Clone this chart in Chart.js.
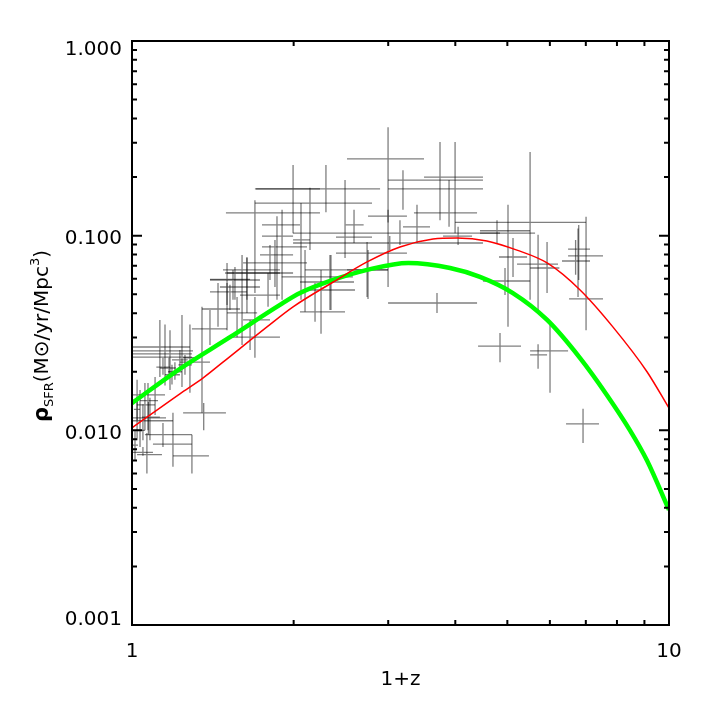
<!DOCTYPE html>
<html>
<head>
<meta charset="utf-8">
<script src="https://cdn.jsdelivr.net/npm/chart.js@4.4.1/dist/chart.umd.min.js"></script>
<style>
  body { margin: 0; background: #fff; }
  #wrap { width: 709px; height: 709px; }
</style>
</head>
<body>
<div id="wrap"><canvas id="sfrChart" width="709" height="709"></canvas></div>
<script>
// ==================== Data ====================
// red model curve (1+z, rho)
const redX = [1.0, 1.228, 1.357, 1.477, 1.784, 1.995, 2.37, 2.74, 3.155, 3.636, 4.03, 4.58, 5.21, 5.93, 6.83, 7.86, 9.10, 10.0];
const redY = [0.0103, 0.0154, 0.0186, 0.0224, 0.0340, 0.0431, 0.0578, 0.0733, 0.0875, 0.0961, 0.0973, 0.0940, 0.0843, 0.0724, 0.0526, 0.0340, 0.0200, 0.0130];

// green model curve
const greenX = [1.0, 1.228, 1.522, 1.886, 2.055, 2.368, 2.74, 3.27, 3.911, 4.446, 5.12, 5.93, 6.83, 7.66, 8.46, 9.10, 10.0];
const greenY = [0.0138, 0.0207, 0.0301, 0.0441, 0.0507, 0.0592, 0.0667, 0.0724, 0.0682, 0.0614, 0.0507, 0.0369, 0.0235, 0.0152, 0.0100, 0.0070, 0.0039];

// measurements with error bars
const crossX   = [1.36, 1.293, 1.192, 1.142, 1.066, 1.048, 1.073, 1.048, 1.022, 1.013, 1.035, 1.080,
                  1.127, 1.152, 1.177, 1.239, 1.228, 1.255, 1.202, 1.172, 1.282, 1.350, 1.397, 1.446,
                  1.503, 1.637, 1.694, 1.603, 1.569, 1.659, 1.792, 1.995, 1.694, 1.862, 1.903, 1.846,
                  1.807, 2.064, 1.637, 1.555, 1.542, 1.503, 1.522, 2.998, 3.196, 3.746, 3.996, 3.894,
                  3.394, 2.998, 2.493, 2.591, 2.297, 2.145, 2.740, 2.751, 2.347, 2.192, 2.249, 3.698,
                  2.337, 2.100, 3.155, 3.02, 4.048, 5.512, 7.007, 4.783, 5.014, 5.123, 4.95, 5.704,
                  5.928, 6.77, 6.79, 6.70, 4.845, 5.704, 6.004, 6.917, 1.022, 1.057, 1.104, 1.071,
                  1.142, 1.187];
const crossXLo = [1.245, 1.192, 1.094, 1.057, 1.022, 1.004, 1.004, 0.98, 1.008, 1.004, 1.017, 1.044,
                  0.95, 0.95, 0.95, 0.95, 1.187, 1.220, 1.167, 1.127, 1.245, 1.228, 1.293, 1.350,
                  1.397, 1.490, 1.610, 1.477, 1.503, 1.503, 1.589, 1.702, 1.496, 1.746, 1.746, 1.746,
                  1.731, 1.995, 1.610, 1.503, 1.397, 1.458, 1.397, 2.514, 2.998, 3.498, 2.998, 3.35,
                  3.196, 2.751, 2.398, 2.50, 1.694, 1.694, 2.398, 2.514, 2.055, 2.055, 2.100, 2.998,
                  2.100, 1.90, 1.995, 1.995, 3.795, 3.996, 6.515, 4.446, 4.446, 4.824, 4.504, 5.212,
                  5.512, 6.487, 6.487, 6.32, 4.41, 5.512, 5.512, 6.431, 1.004, 1.022, 1.066, 1.035,
                  1.110, 1.152];
const crossXHi = [1.496, 1.391, 1.293, 1.293, 1.137, 1.094, 1.157, 1.192, 1.035, 1.026, 1.057, 1.127,
                  1.282, 1.299, 1.293, 1.293, 1.270, 1.293, 1.239, 1.207, 1.320, 1.397, 1.503, 1.589,
                  1.659, 1.886, 1.807, 1.886, 1.710, 1.886, 1.886, 2.239, 2.239, 2.055, 1.995, 2.118,
                  1.995, 2.145, 2.118, 1.995, 1.731, 1.731, 1.637, 3.498, 4.504, 4.504, 4.504, 4.391,
                  3.589, 3.251, 2.799, 2.70, 2.897, 2.799, 3.251, 2.998, 2.591, 2.493, 2.602, 4.391,
                  2.998, 2.579, 4.845, 4.504, 4.298, 7.007, 7.535, 5.512, 5.631, 5.441, 5.512, 6.214,
                  6.25, 7.128, 7.535, 7.128, 5.302, 5.928, 6.487, 7.407, 1.057, 1.104, 1.152, 1.118,
                  1.177, 1.228];
const crossY   = [0.0123, 0.0074, 0.0085, 0.0095, 0.0075, 0.0077, 0.0116, 0.0112, 0.0128, 0.0084, 0.0100, 0.0117,
                  0.0268, 0.0256, 0.0247, 0.0238, 0.0230, 0.0217, 0.0200, 0.0209, 0.0236, 0.0224, 0.0332, 0.0420,
                  0.0597, 0.0643, 0.0369, 0.0667, 0.0401, 0.0301, 0.0495, 0.174, 0.131, 0.1135, 0.0995, 0.0875,
                  0.0796, 0.0951, 0.0724, 0.0643, 0.0592, 0.0545, 0.0514, 0.248, 0.193, 0.200, 0.174, 0.131,
                  0.111, 0.126, 0.0984, 0.1135, 0.174, 0.147, 0.0814, 0.0667, 0.0578, 0.0406, 0.0526, 0.0451,
                  0.0667, 0.0614, 0.103, 0.0917, 0.0995, 0.117, 0.0473, 0.106, 0.103, 0.0777, 0.0585, 0.0715,
                  0.0682, 0.0853, 0.0787, 0.0741, 0.0271, 0.0244, 0.0256, 0.0108, 0.0152, 0.0135, 0.0152, 0.0142,
                  0.0211, 0.0193];
const crossYLo = [0.0100, 0.0060, 0.0065, 0.0082, 0.0060, 0.0074, 0.0095, 0.0089, 0.0089, 0.0070, 0.0082, 0.0089,
                  0.0188, 0.0170, 0.0161, 0.0167, 0.0204, 0.0193, 0.0182, 0.0186, 0.0156, 0.0123, 0.0274, 0.0340,
                  0.0327, 0.0401, 0.0236, 0.0274, 0.0301, 0.0259, 0.0431, 0.103, 0.0507, 0.0468, 0.0468, 0.0545,
                  0.0592, 0.0468, 0.0468, 0.0468, 0.0468, 0.0441, 0.0415, 0.0545, 0.136, 0.120, 0.103, 0.111,
                  0.0917, 0.117, 0.0767, 0.0917, 0.132, 0.0843, 0.0484, 0.0473, 0.0415, 0.0361, 0.0313, 0.0401,
                  0.0415, 0.0406, 0.0895, 0.0843, 0.0895, 0.0468, 0.0327, 0.0917, 0.0340, 0.0614, 0.0495, 0.0415,
                  0.0507, 0.0484, 0.0592, 0.063, 0.0224, 0.0207, 0.0156, 0.0086, 0.0113, 0.0100, 0.0120, 0.0100,
                  0.0193, 0.0172];
const crossYHi = [0.0138, 0.0095, 0.0123, 0.0109, 0.0097, 0.0082, 0.0140, 0.0136, 0.0147, 0.0100, 0.0161, 0.0147,
                  0.0369, 0.0350, 0.0327, 0.0391, 0.0259, 0.0244, 0.0224, 0.0236, 0.0350, 0.0431, 0.0415, 0.0571,
                  0.0724, 0.0777, 0.0484, 0.0796, 0.0484, 0.0369, 0.0643, 0.231, 0.152, 0.126, 0.136, 0.0951,
                  0.0895, 0.147, 0.0767, 0.069, 0.0667, 0.0571, 0.056, 0.361, 0.217, 0.303, 0.303, 0.193,
                  0.144, 0.136, 0.193, 0.136, 0.231, 0.176, 0.0928, 0.0843, 0.0796, 0.0571, 0.0667, 0.0507,
                  0.0796, 0.0843, 0.120, 0.0995, 0.111, 0.269, 0.125, 0.120, 0.144, 0.0973, 0.0682, 0.101,
                  0.0928, 0.109, 0.1135, 0.0951, 0.0316, 0.0277, 0.0356, 0.0129, 0.0182, 0.0175, 0.0188, 0.0175,
                  0.0236, 0.0217];

// axes
const xMin = 1, xMax = 10;
const yMin = 0.001, yMax = 1;
const xMajorTicks = [1, 10];
const xTickLabels = ['1', '10'];
const xMinorTicks = [2, 3, 4, 5, 6, 7, 8, 9];
const yMajorTicks = [0.001, 0.01, 0.1, 1];
const yTickLabels = ['0.001', '0.010', '0.100', '1.000'];
const minorFactors = [2, 3, 4, 5, 6, 7, 8, 9];

// ==================== Plugins ====================
const errorBars = {
    id: 'errorBars',
    beforeDatasetsDraw(chart) {
        const { ctx, chartArea: a, scales: { x, y } } = chart;
        ctx.save();
        ctx.beginPath();
        ctx.rect(a.left, a.top, a.right - a.left, a.bottom - a.top);
        ctx.clip();
        ctx.strokeStyle = 'rgba(0, 0, 0, 0.5)';
        ctx.lineWidth = 1.3;
        crossX.forEach((cx, i) => {
            const px = x.getPixelForValue(cx);
            const py = y.getPixelForValue(crossY[i]);
            ctx.beginPath();
            ctx.moveTo(x.getPixelForValue(crossXLo[i]), py);
            ctx.lineTo(x.getPixelForValue(crossXHi[i]), py);
            ctx.moveTo(px, y.getPixelForValue(crossYLo[i]));
            ctx.lineTo(px, y.getPixelForValue(crossYHi[i]));
            ctx.stroke();
        });
        ctx.restore();
    }
};

const frameAxes = {
    id: 'frameAxes',
    afterDraw(chart) {
        const { ctx, chartArea: a, scales: { x, y } } = chart;
        ctx.save();
        ctx.strokeStyle = '#000';
        ctx.lineWidth = 2;
        ctx.strokeRect(a.left, a.top, a.right - a.left, a.bottom - a.top);

        // ticks point inward on all four sides
        ctx.beginPath();
        const hTick = (py, len) => {
            ctx.moveTo(a.left, py); ctx.lineTo(a.left + len, py);
            ctx.moveTo(a.right, py); ctx.lineTo(a.right - len, py);
        };
        const vTick = (px, len) => {
            ctx.moveTo(px, a.bottom); ctx.lineTo(px, a.bottom - len);
            ctx.moveTo(px, a.top); ctx.lineTo(px, a.top + len);
        };
        yMajorTicks.forEach(v => {
            hTick(y.getPixelForValue(v), 10);
            if (v < yMax) minorFactors.forEach(f => hTick(y.getPixelForValue(v * f), 5));
        });
        xMajorTicks.forEach(v => vTick(x.getPixelForValue(v), 10));
        xMinorTicks.forEach(v => vTick(x.getPixelForValue(v), 5));
        ctx.stroke();

        // tick labels
        ctx.fillStyle = '#000';
        ctx.font = '20px "DejaVu Sans"';
        ctx.textAlign = 'right';
        ctx.textBaseline = 'middle';
        yMajorTicks.forEach((v, i) => {
            let py = y.getPixelForValue(v) + 3;
            py = Math.min(Math.max(py, a.top + 9), a.bottom - 5);
            ctx.fillText(yTickLabels[i], a.left - 10, py);
        });
        ctx.textAlign = 'center';
        ctx.textBaseline = 'alphabetic';
        xMajorTicks.forEach((v, i) => {
            ctx.fillText(xTickLabels[i], x.getPixelForValue(v), a.bottom + 32);
        });

        // x title
        ctx.fillText('1+z', (a.left + a.right) / 2, a.bottom + 60);

        // y title with subscript and superscript
        const parts = [
            { t: 'ρ', font: 'bold 21px "DejaVu Sans"', dy: 0 },
            { t: 'SFR', font: '13px "DejaVu Sans"', dy: 5 },
            { t: '(M⊙/yr/Mpc', font: '20px "DejaVu Sans"', dy: 0 },
            { t: '3', font: '13px "DejaVu Sans"', dy: -9 },
            { t: ')', font: '20px "DejaVu Sans"', dy: 0 }
        ];
        let total = 0;
        parts.forEach(p => { ctx.font = p.font; p.w = ctx.measureText(p.t).width; total += p.w; });
        ctx.translate(48, (a.top + a.bottom) / 2 + 3);
        ctx.rotate(-Math.PI / 2);
        ctx.textAlign = 'left';
        let cursor = -total / 2;
        parts.forEach(p => {
            ctx.font = p.font;
            ctx.fillText(p.t, cursor, p.dy);
            cursor += p.w;
        });
        ctx.restore();
    }
};

// ==================== Chart ====================
const ctx = document.getElementById('sfrChart').getContext('2d');
const sfrChart = new Chart(ctx, {
    type: 'scatter',
    data: {
        datasets: [
            {
                label: 'red model',
                data: redX.map((v, i) => ({ x: v, y: redY[i] })),
                showLine: true,
                borderColor: '#ff0000',
                borderWidth: 1.5,
                pointRadius: 0,
                cubicInterpolationMode: 'monotone'
            },
            {
                label: 'green model',
                data: greenX.map((v, i) => ({ x: v, y: greenY[i] })),
                showLine: true,
                borderColor: '#00ff00',
                borderWidth: 4.5,
                pointRadius: 0,
                cubicInterpolationMode: 'monotone'
            },
            {
                label: 'data',
                data: crossX.map((v, i) => ({ x: v, y: crossY[i] })),
                pointRadius: 0
            }
        ]
    },
    options: {
        responsive: false,
        animation: false,
        devicePixelRatio: 1,
        layout: { padding: { left: 132, top: 41, right: 40, bottom: 84 } },
        plugins: { legend: { display: false }, tooltip: { enabled: false } },
        scales: {
            x: { type: 'logarithmic', min: xMin, max: xMax, display: false },
            y: { type: 'logarithmic', min: yMin, max: yMax, display: false }
        }
    },
    plugins: [errorBars, frameAxes]
});
</script>
</body>
</html>
